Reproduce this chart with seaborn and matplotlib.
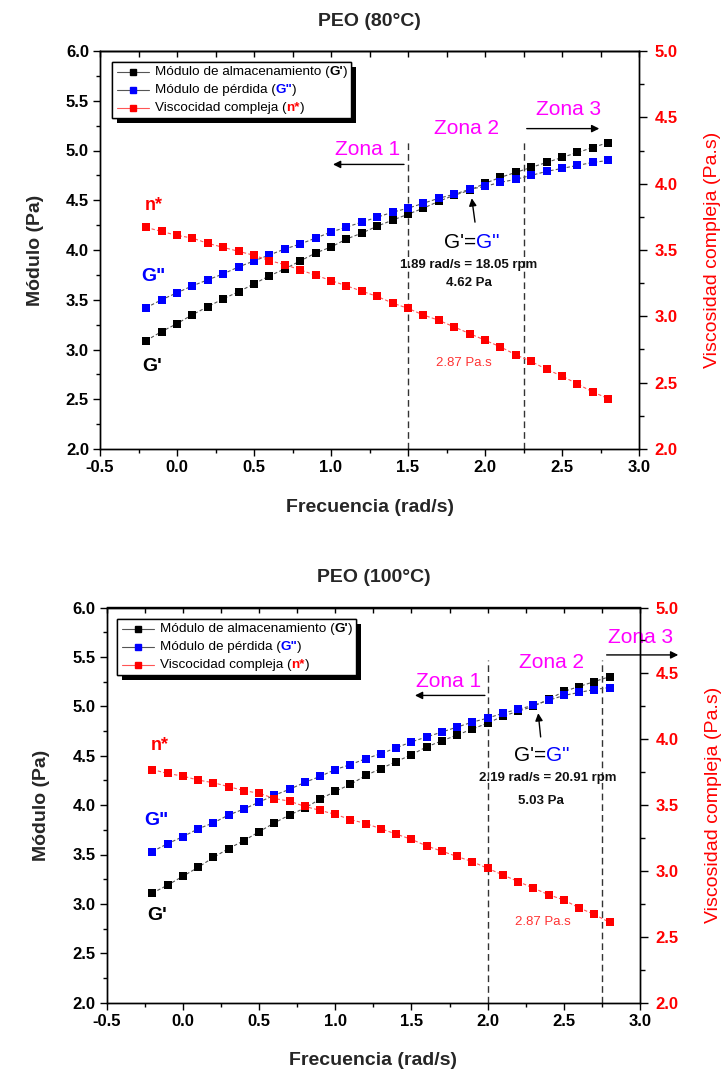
import matplotlib
matplotlib.use("Agg")
import matplotlib.pyplot as plt
import seaborn as sns
import pandas as pd
from matplotlib.offsetbox import (TextArea, HPacker, VPacker, DrawingArea,
                                  AnchoredOffsetbox, AnnotationBbox)
from matplotlib.lines import Line2D
from matplotlib.ticker import MultipleLocator
import matplotlib.patheffects as pe

# ---------------- data ----------------
FREQ = [-0.2, -0.1, 0.0, 0.1, 0.2, 0.3, 0.4, 0.5, 0.6, 0.7, 0.8, 0.9, 1.0,
        1.1, 1.2, 1.3, 1.4, 1.5, 1.6, 1.7, 1.8, 1.9, 2.0, 2.1, 2.2, 2.3,
        2.4, 2.5, 2.6, 2.7, 2.8]

G1_80 = [3.09, 3.18, 3.26, 3.35, 3.43, 3.51, 3.58, 3.66, 3.74, 3.81, 3.89,
         3.97, 4.03, 4.11, 4.17, 4.24, 4.30, 4.36, 4.42, 4.49, 4.55, 4.60,
         4.67, 4.73, 4.78, 4.83, 4.88, 4.93, 4.98, 5.03, 5.08]
G2_80 = [3.42, 3.50, 3.57, 3.64, 3.70, 3.76, 3.83, 3.89, 3.95, 4.01, 4.06,
         4.12, 4.18, 4.23, 4.28, 4.33, 4.38, 4.42, 4.47, 4.52, 4.56, 4.61,
         4.64, 4.68, 4.71, 4.75, 4.79, 4.82, 4.85, 4.88, 4.90]
ETA_80 = [3.67, 3.64, 3.61, 3.59, 3.55, 3.52, 3.49, 3.46, 3.42, 3.39, 3.35,
          3.31, 3.27, 3.23, 3.19, 3.15, 3.10, 3.06, 3.01, 2.97, 2.92, 2.87,
          2.82, 2.77, 2.71, 2.66, 2.60, 2.55, 2.49, 2.43, 2.38]

G1_100 = [3.11, 3.19, 3.28, 3.37, 3.47, 3.56, 3.64, 3.73, 3.82, 3.90, 3.97,
          4.06, 4.14, 4.21, 4.30, 4.37, 4.44, 4.51, 4.59, 4.65, 4.71, 4.77,
          4.83, 4.90, 4.95, 5.00, 5.07, 5.15, 5.20, 5.25, 5.30]
G2_100 = [3.53, 3.61, 3.68, 3.76, 3.82, 3.90, 3.96, 4.03, 4.10, 4.16, 4.23,
          4.29, 4.36, 4.41, 4.47, 4.52, 4.58, 4.64, 4.69, 4.74, 4.79, 4.84,
          4.88, 4.93, 4.97, 5.01, 5.06, 5.11, 5.14, 5.17, 5.19]
ETA_100 = [3.77, 3.74, 3.72, 3.69, 3.67, 3.64, 3.61, 3.59, 3.55, 3.53, 3.49,
           3.46, 3.43, 3.39, 3.36, 3.32, 3.28, 3.24, 3.19, 3.15, 3.11, 3.07,
           3.02, 2.97, 2.92, 2.87, 2.82, 2.78, 2.72, 2.67, 2.61]

X_TICKS = [-0.5, 0.0, 0.5, 1.0, 1.5, 2.0, 2.5, 3.0]
X_TICK_LABELS = ["-0.5", "0.0", "0.5", "1.0", "1.5", "2.0", "2.5", "3.0"]
Y_TICKS = [2.0, 2.5, 3.0, 3.5, 4.0, 4.5, 5.0, 5.5, 6.0]
Y_TICK_LABELS = ["2.0", "2.5", "3.0", "3.5", "4.0", "4.5", "5.0", "5.5", "6.0"]
Y2_TICKS = [2.0, 2.5, 3.0, 3.5, 4.0, 4.5, 5.0]
Y2_TICK_LABELS = ["2.0", "2.5", "3.0", "3.5", "4.0", "4.5", "5.0"]

TITLES = ["PEO (80°C)", "PEO (100°C)"]
ZONE_LINES = [[1.5, 2.25], [2.0, 2.75]]
CROSS_TEXT = [["1.89 rad/s = 18.05 rpm", "4.62 Pa"],
              ["2.19 rad/s = 20.91 rpm", "5.03 Pa"]]
ETA_TEXT = "2.87 Pa.s"
XLABEL = "Frecuencia (rad/s)"
YLABEL = "Módulo (Pa)"
Y2LABEL = "Viscosidad compleja (Pa.s)"
LEGEND_ROWS = [("Módulo de almacenamiento (", "G'", ")"),
               ("Módulo de pérdida (", 'G"', ")"),
               ("Viscocidad compleja (", "n*", ")")]

# ---------------- style ----------------
sns.set_theme(style="ticks")
plt.rcParams["font.family"] = ["Liberation Sans", "DejaVu Sans"]
plt.rcParams["axes.linewidth"] = 1.0
plt.rcParams["axes.edgecolor"] = "black"

BLACK, BLUE, RED, MAG = "#000000", "#0000FF", "#FF0000", "#FF00FF"
GREYLINE, REDLINE = "#555555", "#FF5555"

fig = plt.figure(figsize=(7.22, 10.72), dpi=100)
W, H = 722.0, 1072.0

panels = [
    dict(rect=[100 / W, 1 - 449 / H, 539 / W, 398 / H],
         g1=G1_80, g2=G2_80, eta=ETA_80, zone_top=5.12,
         lab_n=(-0.208, 4.45), lab_g2=(-0.234, 3.73), lab_g1=(-0.227, 2.83),
         z1=(1.24, 5.01), z1a=((1.474, 4.86), (1.013, 4.86)),
         z2=(1.883, 5.22),
         z3=(2.545, 5.41), z3a=((2.271, 5.22), (2.742, 5.22)),
         geq=(1.916, 4.08), t1=(1.893, 3.85), t2=(1.896, 3.67),
         ga=((1.935, 4.28), (1.914, 4.52)), eta_t=(1.864, 2.86),
         leg=(0.022, 0.972)),
    dict(rect=[106.7 / W, 1 - 1002.7 / H, 533.3 / W, 395.2 / H],
         g1=G1_100, g2=G2_100, eta=ETA_100, zone_top=5.47,
         lab_n=(-0.209, 4.60), lab_g2=(-0.255, 3.84), lab_g1=(-0.236, 2.88),
         z1=(1.746, 5.25), z1a=((1.982, 5.11), (1.523, 5.11)),
         z2=(2.416, 5.44),
         z3=(3.006, 5.70), z3a=((2.781, 5.52), (3.251, 5.52)),
         geq=(2.356, 4.50), t1=(2.396, 4.27), t2=(2.353, 4.04),
         ga=((2.348, 4.69), (2.332, 4.93)), eta_t=(2.363, 2.82),
         leg=(0.019, 0.970)),
]


def arrow(ax, tail, head):
    ax.annotate("", xy=head, xytext=tail, xycoords="data",
                arrowprops=dict(arrowstyle="-|>", color="black", lw=1.0,
                                mutation_scale=11, shrinkA=0, shrinkB=0),
                annotation_clip=False, zorder=6)


def build_legend(ax, anchor):
    rows = []
    specs = [(BLACK, GREYLINE, BLACK), (BLUE, GREYLINE, BLUE), (RED, REDLINE, RED)]
    for (pre, key, post), (face, lcol, kcol) in zip(LEGEND_ROWS, specs):
        da = DrawingArea(25, 8, 0, 0)
        da.add_artist(Line2D([1, 24], [4, 4], color=lcol, lw=0.8))
        da.add_artist(Line2D([12.5], [4], marker="s", ms=5, color=face,
                             mec=face, ls="none"))
        txt = HPacker(children=[
            TextArea(pre, textprops=dict(fontsize=9.7, color="black")),
            TextArea(key, textprops=dict(fontsize=9.7, color=kcol,
                                         fontweight="bold")),
            TextArea(post, textprops=dict(fontsize=9.7, color="black")),
        ], align="baseline", pad=0, sep=0)
        rows.append(HPacker(children=[da, txt], align="center", pad=0, sep=3))
    vp = VPacker(children=rows, align="left", pad=0, sep=4.4)
    box = AnchoredOffsetbox(loc="upper left", child=vp, pad=0.25,
                            borderpad=0, frameon=True,
                            bbox_to_anchor=anchor,
                            bbox_transform=ax.transAxes)
    box.patch.set_boxstyle("square", pad=0)
    box.patch.set_edgecolor("black")
    box.patch.set_linewidth(1.0)
    box.patch.set_path_effects([
        pe.withSimplePatchShadow(offset=(3.6, -3.6), shadow_rgbFace="black",
                                 alpha=1.0),
        pe.Normal()])
    box.set_zorder(10)
    ax.add_artist(box)


for i, p in enumerate(panels):
    ax = fig.add_axes(p["rect"])
    df = pd.DataFrame({"f": FREQ, "g1": p["g1"], "g2": p["g2"], "eta": p["eta"]})

    sns.lineplot(data=df, x="f", y="g1", ax=ax, color=GREYLINE, lw=0.8,
                 linestyle=(0, (3, 2)), marker="s", markersize=5.2,
                 markerfacecolor=BLACK, markeredgecolor=BLACK,
                 markeredgewidth=0, errorbar=None, zorder=3)
    sns.lineplot(data=df, x="f", y="g2", ax=ax, color=GREYLINE, lw=0.8,
                 linestyle=(0, (3, 2)), marker="s", markersize=5.2,
                 markerfacecolor=BLUE, markeredgecolor=BLUE,
                 markeredgewidth=0, errorbar=None, zorder=4)

    ax.set_xlim(-0.5, 3.0)
    ax.set_ylim(2.0, 6.0)
    ax.set_xticks(X_TICKS)
    ax.set_xticklabels(X_TICK_LABELS, fontweight="bold", fontsize=12)
    ax.set_yticks(Y_TICKS)
    ax.set_yticklabels(Y_TICK_LABELS, fontweight="bold", fontsize=12)
    ax.xaxis.set_minor_locator(MultipleLocator(0.25))
    ax.yaxis.set_minor_locator(MultipleLocator(0.25))
    ax.tick_params(axis="both", which="major", direction="out", length=5,
                   width=1, color="black", labelcolor="black", pad=3)
    ax.tick_params(axis="both", which="minor", direction="out", length=3,
                   width=1, color="black")
    ax.tick_params(top=False, right=False, which="both")
    ax.set_xlabel(XLABEL, fontsize=14, fontweight="bold", labelpad=17)
    ax.set_ylabel(YLABEL, fontsize=14, fontweight="bold", labelpad=16)
    ax.set_title(TITLES[i], fontsize=14, fontweight="bold", pad=18)

    sec = ax.secondary_xaxis("top")
    sec.xaxis.set_major_locator(MultipleLocator(0.25))
    sec.tick_params(direction="in", length=4.5, width=1, labeltop=False,
                    color="black")

    ax2 = ax.twinx()
    sns.lineplot(data=df, x="f", y="eta", ax=ax2, color=REDLINE, lw=0.8,
                 linestyle=(0, (3, 2)), marker="s", markersize=5.2,
                 markerfacecolor=RED, markeredgecolor=RED,
                 markeredgewidth=0, errorbar=None, zorder=5)
    ax2.set_ylim(2.0, 5.0)
    ax2.set_yticks(Y2_TICKS)
    ax2.set_yticklabels(Y2_TICK_LABELS, fontweight="bold", fontsize=12)
    ax2.yaxis.set_minor_locator(MultipleLocator(0.25))
    ax2.tick_params(axis="y", which="major", direction="out", length=6,
                    width=1, color="black", labelcolor=RED, pad=5)
    ax2.tick_params(axis="y", which="minor", direction="out", length=3.5,
                    width=1, color="black")
    ax2.set_ylabel(Y2LABEL, fontsize=14, color=RED, labelpad=19)
    ax2.set_xlabel("")
    for a in (ax, ax2):
        for s in a.spines.values():
            s.set_visible(True)
            s.set_color("black")
            s.set_linewidth(1.0)

    # zone lines
    for xv in ZONE_LINES[i]:
        ax.axvline(xv, ymin=0, ymax=(p["zone_top"] - 2.0) / 4.0,
                   color="#333333", lw=1.0, dashes=(4.8, 2.9), zorder=2)

    # series labels
    ax.text(*p["lab_n"], "n*", color=RED, fontsize=13, fontweight="bold",
            ha="left", va="center")
    ax.text(*p["lab_g2"], 'G"', color=BLUE, fontsize=14, fontweight="bold",
            ha="left", va="center")
    ax.text(*p["lab_g1"], "G'", color=BLACK, fontsize=14, fontweight="bold",
            ha="left", va="center")

    # zones
    ax.text(*p["z1"], "Zona 1", color=MAG, fontsize=15, ha="center", va="center")
    ax.text(*p["z2"], "Zona 2", color=MAG, fontsize=15, ha="center", va="center")
    ax.text(*p["z3"], "Zona 3", color=MAG, fontsize=15, ha="center",
            va="center", clip_on=False)
    arrow(ax, *p["z1a"])
    arrow(ax, *p["z3a"])

    # crossover annotation
    geq = HPacker(children=[
        TextArea("G'=", textprops=dict(fontsize=15, color="black")),
        TextArea('G"', textprops=dict(fontsize=15, color=BLUE)),
    ], align="baseline", pad=0, sep=0)
    ab = AnnotationBbox(geq, p["geq"], xycoords="data", frameon=False,
                        box_alignment=(0.5, 0.5), pad=0, zorder=7)
    ax.add_artist(ab)
    ax.text(*p["t1"], CROSS_TEXT[i][0], fontsize=9.5, fontweight="bold",
            ha="center", va="center", color="#111111", zorder=7)
    ax.text(*p["t2"], CROSS_TEXT[i][1], fontsize=9.5, fontweight="bold",
            ha="center", va="center", color="#111111", zorder=7)
    arrow(ax, *p["ga"])
    ax.text(*p["eta_t"], ETA_TEXT, fontsize=9.5, color="#FF3333",
            ha="center", va="center", zorder=7)

    build_legend(ax2, p["leg"])

fig.savefig("out.png", dpi=100)
